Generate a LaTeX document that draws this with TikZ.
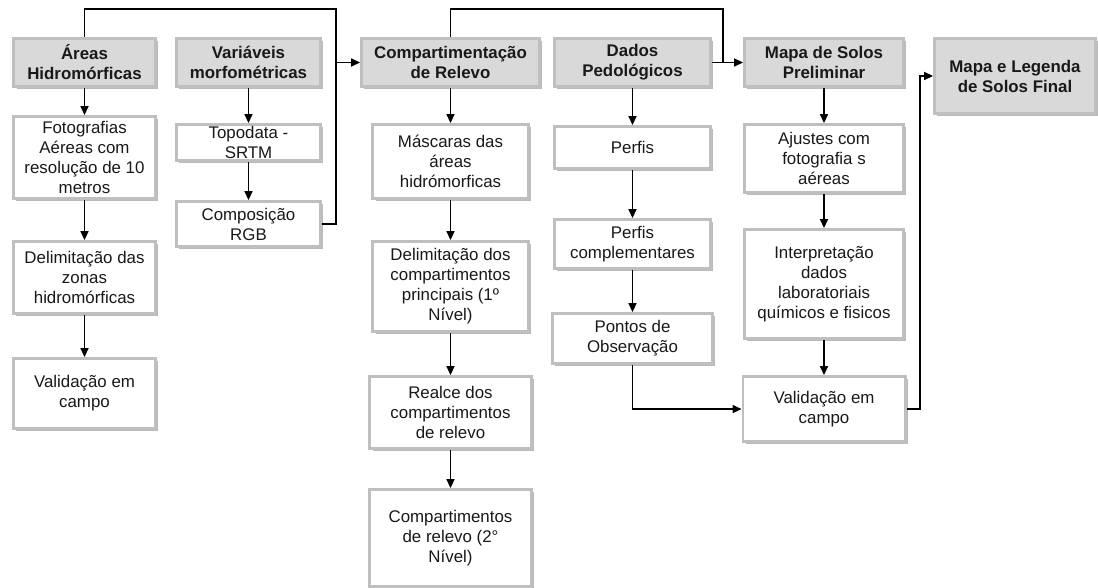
\documentclass[tikz,border=0pt]{standalone}
\usepackage{fontspec}
\setmainfont{Liberation Sans}
\usetikzlibrary{arrows.meta,positioning,shadows}

\begin{document}
\begin{tikzpicture}[
        font=\fontsize{12}{14.2}\selectfont,
        box/.style={draw=black!25, line width=2pt, fill=white, align=center, inner sep=1pt, text=black!90,
            drop shadow={shadow xshift=2pt, shadow yshift=-2pt, fill=black!45, opacity=0.6}},
        hdr/.style={box, fill=black!15, font=\fontsize{12}{14.2}\selectfont\bfseries, minimum height=1.205cm},
        conn/.style={-{Triangle[length=2.2mm,width=2mm]}, line width=0.8pt},
        line/.style={line width=0.8pt}
    ]
        \useasboundingbox (0,0) rectangle (27.45,-14.7);

        \node (areas)  [hdr, minimum width=3.53cm]  at (2.1125,-1.5625)  {Áreas\\Hidromórficas};
        \node (morf)   [hdr, minimum width=3.605cm] at (6.2125,-1.5625)  {Variáveis\\morfométricas};
        \node (relevo) [hdr, minimum width=4.455cm] at (11.2625,-1.5625) {Compartimentação\\de Relevo};
        \node (dados)  [hdr, minimum width=3.905cm] at (15.8125,-1.5625) {Dados\\Pedológicos};
        \node (prelim) [hdr, minimum width=3.98cm]  at (20.6,-1.5625)    {Mapa de Solos\\Preliminar};
        \node (final)  [hdr, minimum width=4.03cm, minimum height=1.88cm] at (25.375,-1.9) {Mapa e Legenda\\de Solos Final};

        % column 1
        \node (foto)   [box, below=0.675cm of areas, minimum width=3.555cm, minimum height=2.055cm] {Fotografias\\Aéreas com\\resolução de 10\\metros};
        \node (zonas)  [box, below=1cm of foto, minimum width=3.555cm, minimum height=1.805cm] {Delimitação das\\zonas\\hidromórficas};
        \node (campo1) [box, below=1.05cm of zonas, minimum width=3.555cm, minimum height=1.755cm] {Validação em\\campo};

        % column 2
        \node (srtm) [box, below=0.875cm of morf, minimum width=3.605cm, minimum height=0.905cm] {Topodata -\\SRTM};
        \node (rgb)  [box, below=0.95cm of srtm, minimum width=3.605cm, minimum height=1.13cm] {Composição\\RGB};

        % column 3
        \node (mascaras) [box, below=0.875cm of relevo, minimum width=3.88cm, minimum height=1.855cm] {Máscaras das\\áreas\\hidrómorficas};
        \node (nivel1)   [box, below=1cm of mascaras, minimum width=3.88cm, minimum height=2.255cm] {Delimitação dos\\compartimentos\\principais (1º\\Nível)};
        \node (realce)   [box, below=1.05cm of nivel1, minimum width=4.03cm, minimum height=1.805cm] {Realce dos\\compartimentos\\de relevo};
        \node (nivel2)   [box, below=0.95cm of realce, minimum width=4.03cm, minimum height=2.43cm] {Compartimentos\\de relevo (2°\\Nível)};

        % column 4
        \node (perfis) [box, below=0.925cm of dados, minimum width=3.905cm, minimum height=1.055cm] {Perfis};
        \node (compl)  [box, below=1.2cm of perfis, minimum width=3.905cm, minimum height=1.23cm] {Perfis\\complementares};
        \node (pontos) [box, below=1.05cm of compl, minimum width=4.005cm, minimum height=1.255cm] {Pontos de\\Observação};

        % column 5
        \node (ajustes) [box, below=0.875cm of prelim, minimum width=3.98cm, minimum height=1.705cm] {Ajustes com\\fotografia s\\aéreas};
        \node (interp)  [box, below=0.85cm of ajustes, minimum width=3.98cm, minimum height=2.73cm] {Interpretação\\dados\\laboratoriais\\químicos e fisicos};
        \node (campo2)  [box, below=0.875cm of interp, minimum width=4.055cm, minimum height=1.63cm] {Validação em\\campo};

        \coordinate (top1) at (8.4,-0.225);
        \coordinate (j1)   at (8.4,-1.5625);
        \coordinate (top2) at (18.075,-0.225);
        \coordinate (j2)   at (18.075,-1.5625);
        \coordinate (j3)   at (23,-1.9);

        \draw[conn] (areas) -- (foto);
        \draw[conn] (foto) -- (zonas);
        \draw[conn] (zonas) -- (campo1);
        \draw[conn] (morf) -- (srtm);
        \draw[conn] (srtm) -- (rgb);
        \draw[conn] (relevo) -- (mascaras);
        \draw[conn] (mascaras) -- (nivel1);
        \draw[conn] (nivel1) -- (realce);
        \draw[conn] (realce) -- (nivel2);
        \draw[conn] (dados) -- (perfis);
        \draw[conn] (perfis) -- (compl);
        \draw[conn] (compl) -- (pontos);
        \draw[conn] (prelim) -- (ajustes);
        \draw[conn] (ajustes) -- (interp);
        \draw[conn] (interp) -- (campo2);

        \draw[line] (areas.north) |- (top1) -- (j1);
        \draw[line] (rgb.east) -| (j1);
        \draw[conn] (j1) -- (relevo.west);
        \draw[line] (relevo.north) |- (top2) -- (j2);
        \draw[conn] (dados.east) -- (prelim.west);
        \draw[conn] (pontos.south) |- (campo2.west);
        \draw[conn] (campo2.east) -| (j3) -- (final.west);
    \end{tikzpicture}
\end{document}
